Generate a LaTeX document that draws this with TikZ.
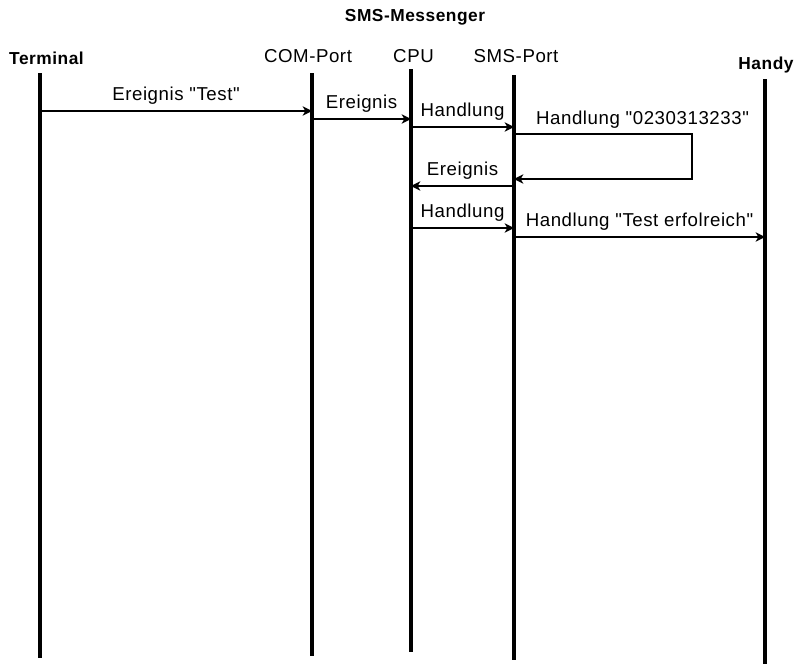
\documentclass[tikz,border=0pt]{standalone}
\usepackage{fontspec}
\setmainfont{Liberation Sans}[LetterSpace=3, Ligatures=TeXOff]
\usetikzlibrary{arrows.meta}

\begin{document}
\begin{tikzpicture}[x=0.75pt, y=-0.75pt,
  every node/.style={font=\fontsize{14}{16}\selectfont, inner sep=0pt},
  kopf/.style={anchor=base},
  kopffett/.style={anchor=base, font=\fontsize{13}{15}\selectfont\bfseries},
  lebenslinie/.style={line width=3pt},
  nachricht/.style={line width=2.2pt, -{Stealth[length=7pt,width=7pt,inset=2pt]}},
  txt/.style={midway, anchor=base, yshift=8pt}]
  \useasboundingbox (0,0) rectangle (800,664);

  % Titel
  \node[kopffett] (titel) at (415,21) {SMS-Messenger};

  % Koepfe der Lebenslinien
  \node[kopffett] (terminal) at (46.5,64) {Terminal};
  \node[kopf] (comport) at (308,62) {COM-Port};
  \node[kopf] (cpu) at (413.5,62) {CPU};
  \node[kopf] (smsport) at (516,62) {SMS-Port};
  \node[kopffett] (handy) at (766,69.5) {Handy};

  % Lebenslinien
  \coordinate (terminalO) at (40,73);   \coordinate (terminalU) at (40,658);
  \coordinate (comportO) at (312,73);   \coordinate (comportU) at (312,656);
  \coordinate (cpuO) at (411,69);       \coordinate (cpuU) at (411,652);
  \coordinate (smsportO) at (514,75);   \coordinate (smsportU) at (514,660);
  \coordinate (handyO) at (765,79);     \coordinate (handyU) at (765,664);
  \foreach \l in {terminal,comport,cpu,smsport,handy}
    \draw[lebenslinie] (\l O) -- (\l U);

  % Punkte der Nachrichten
  \coordinate (t1) at (40,111);   \coordinate (c1) at (312,111);
  \coordinate (c2) at (312,119);  \coordinate (p2) at (411,119);
  \coordinate (p3) at (411,127);  \coordinate (s3) at (514,127);
  \coordinate (s4) at (514,134);  \coordinate (r4) at (692,134);
  \coordinate (r5) at (692,179);  \coordinate (s5) at (514,179);
  \coordinate (s6) at (514,186);  \coordinate (p6) at (411,186);
  \coordinate (p7) at (411,228);  \coordinate (s7) at (514,228);
  \coordinate (s8) at (514,237);  \coordinate (h8) at (765,237);

  % Nachrichten
  \draw[nachricht] (t1) -- node[txt] {Ereignis "Test"} (c1);
  \draw[nachricht] (c2) -- node[txt] {Ereignis} (p2);
  \draw[nachricht] (p3) -- node[txt] {Handlung} (s3);
  \draw[nachricht] (s4) -- node[txt, pos=0, anchor=base west, xshift=15.5pt, yshift=-1pt]
    {Handlung "0230313233"} (r4) -- (r5) -- (s5);
  \draw[nachricht] (s6) -- node[txt] {Ereignis} (p6);
  \draw[nachricht] (p7) -- node[txt] {Handlung} (s7);
  \draw[nachricht] (s8) -- node[txt] {Handlung "Test erfolreich"} (h8);
\end{tikzpicture}
\end{document}
